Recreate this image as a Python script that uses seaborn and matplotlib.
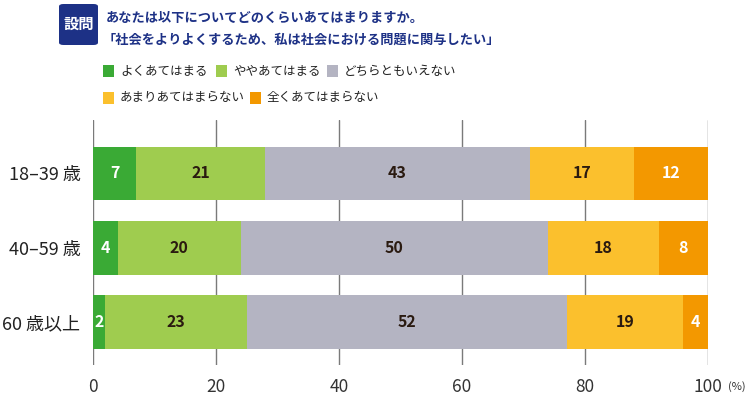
import numpy as np
import pandas as pd
import seaborn as sns
import matplotlib.pyplot as plt
from matplotlib.patches import Rectangle, FancyBboxPatch

# データ
groups = ["18–39 歳", "40–59 歳", "60 歳以上"]
answers = ["よくあてはまる", "ややあてはまる", "どちらともいえない",
           "あまりあてはまらない", "全くあてはまらない"]
v_very = [7, 4, 2]
v_some = [21, 20, 23]
v_neutral = [43, 50, 52]
v_notmuch = [17, 18, 19]
v_notatall = [12, 8, 4]
ticks = [0, 20, 40, 60, 80, 100]

colors = ["#3aaa35", "#9fcc4f", "#b4b4c2", "#fbc02d", "#f39800"]
label_colors = ["white", "#2a1a10", "#2a1a10", "#2a1a10", "white"]
navy = "#1d3186"

df = pd.DataFrame({"group": groups})
for name, vals in zip(answers, [v_very, v_some, v_neutral, v_notmuch, v_notatall]):
    df[name] = vals
cum = df[answers].cumsum(axis=1)

sns.set_theme(style="white")
plt.rcParams['font.family'] = ['Noto Sans CJK JP', 'DejaVu Sans']

W, H = 750, 398
fig = plt.figure(figsize=(7.5, 3.98), dpi=100)
ax = fig.add_axes([93 / W, 1 - 365 / H, 615 / W, 245 / H])

def px(x, y):
    return x / W, 1 - y / H

# 積み上げ棒（長い順に重ねて描く）
for k in range(len(answers) - 1, -1, -1):
    sns.barplot(x=cum[answers[k]], y=df["group"], orient="h", color=colors[k],
                saturation=1, width=0.725, linewidth=0, ax=ax)

for i in range(len(groups)):
    for k, name in enumerate(answers):
        v = df.loc[i, name]
        ax.text(cum.loc[i, name] - v / 2, i, str(v), ha="center", va="center",
                fontsize=11.5, fontweight="bold", color=label_colors[k])

ax.set_xlim(0, 100)
ax.set_ylim(2.58, -0.72)
ax.set_xticks(ticks)
ax.set_xticklabels([str(t) for t in ticks])
ax.set_xlabel("")
ax.set_ylabel("")
ax.xaxis.grid(True, color="#7a7a7a", linewidth=1)
ax.set_axisbelow(True)
for s in ax.spines.values():
    s.set_visible(False)
ax.tick_params(axis="x", length=0, pad=9, labelsize=12.5, labelcolor="#333333")
ax.tick_params(axis="y", length=0, pad=9, labelsize=13, labelcolor="#222222")
fig.text(*px(728, 387), "(%)", fontsize=8, color="#333333", va="center", ha="left")

# 設問ボックスとタイトル
box = FancyBboxPatch(px(59, 45), 39 / W, 41 / H, boxstyle="round,pad=0,rounding_size=0.006",
                     transform=fig.transFigure, facecolor=navy, edgecolor="none")
fig.patches.append(box)
fig.text(*px(78.5, 24), "設問", color="white", fontsize=11, fontweight="bold",
         ha="center", va="center")
fig.text(*px(106, 18), "あなたは以下についてどのくらいあてはまりますか。", color=navy,
         fontsize=9.5, fontweight="bold", ha="left", va="center")
fig.text(*px(103, 40), "「社会をよりよくするため、私は社会における問題に関与したい」", color=navy,
         fontsize=9.5, fontweight="bold", ha="left", va="center")

# 凡例
leg_pos = [(103, 71), (216, 71), (327, 71), (103, 98), (250, 98)]
for (x, y), name, c in zip(leg_pos, answers, colors):
    fig.patches.append(Rectangle(px(x, y + 6), 11 / W, 12 / H, transform=fig.transFigure,
                                 facecolor=c, edgecolor="none"))
    fig.text(*px(x + 17, y), name, fontsize=9, color="#222222", ha="left", va="center")

fig.savefig("out.png", dpi=100)
